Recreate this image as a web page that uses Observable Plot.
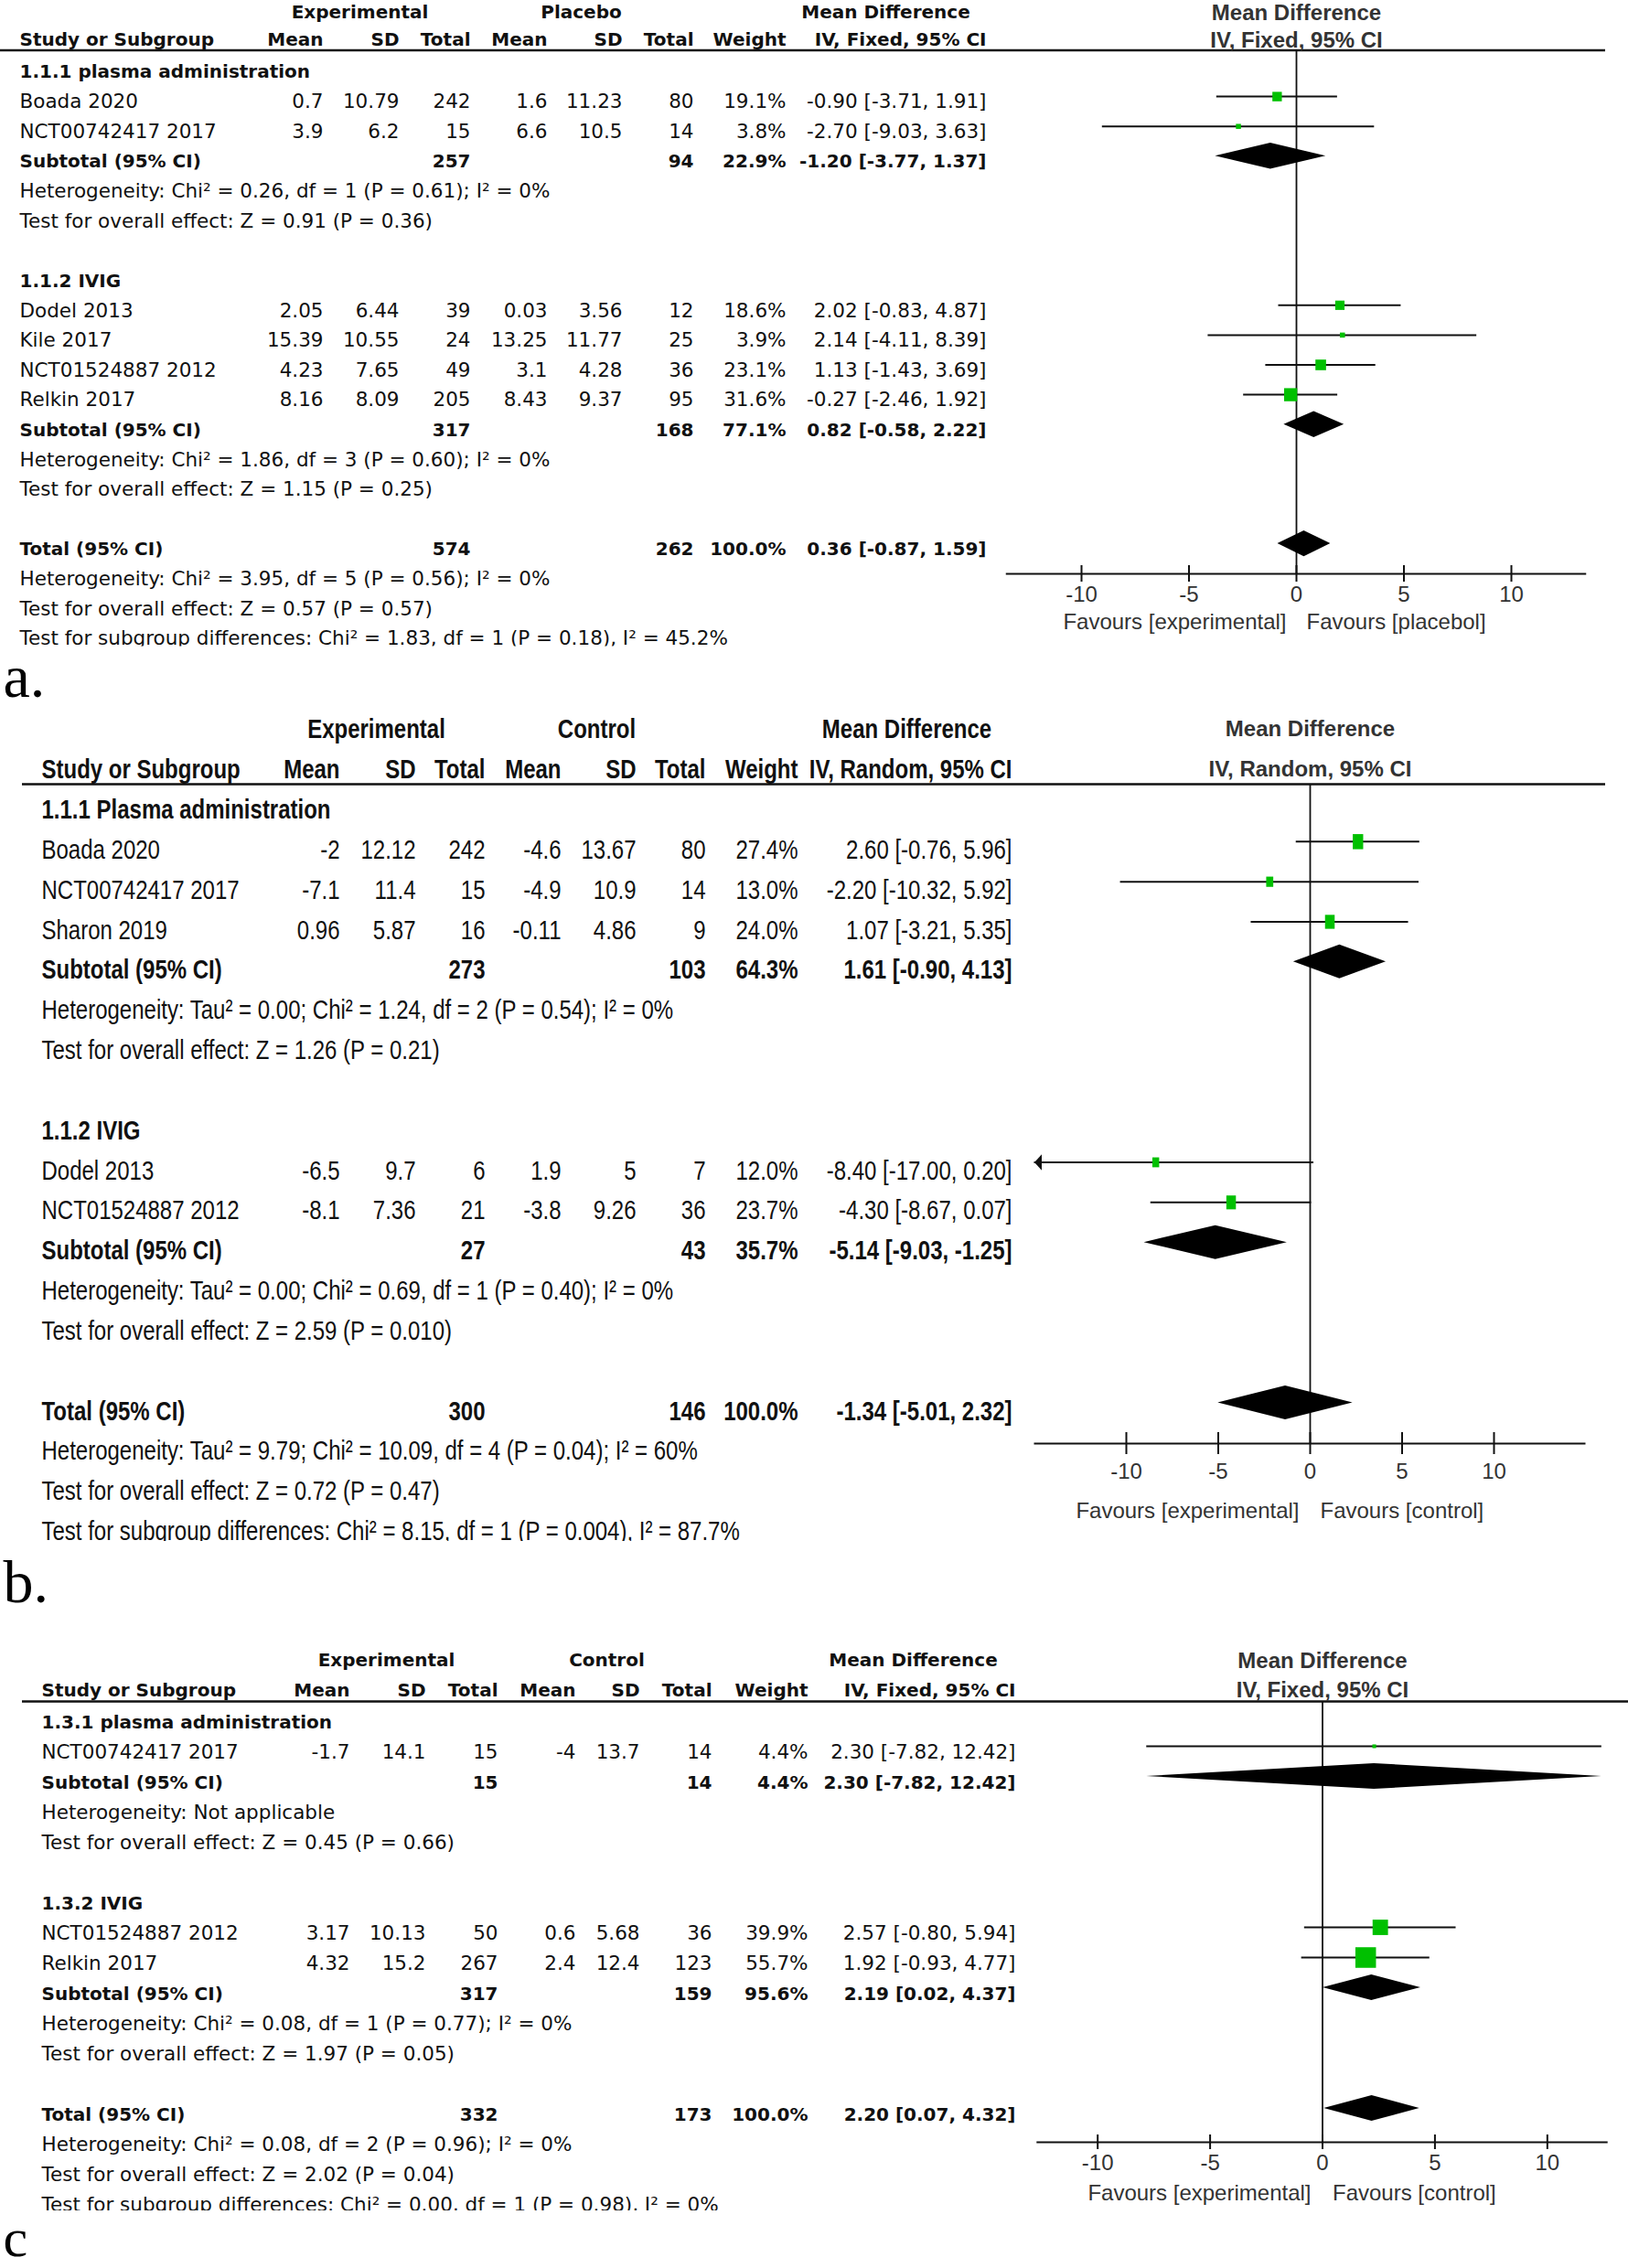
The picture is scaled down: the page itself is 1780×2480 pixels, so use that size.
<!DOCTYPE html>
<html><head><meta charset="utf-8">
<script src="https://cdn.jsdelivr.net/npm/d3@7"></script>
<script src="https://cdn.jsdelivr.net/npm/@observablehq/plot@0.6"></script>
<style>
body{margin:0;background:#fff;}
#wrap{width:1780px;}
#wrap svg{display:block;}
</style></head><body><div id="wrap"></div>
<script>
// ===================== Panel a data =====================
const aGroups = ["1.1.1 plasma administration", "1.1.2 IVIG"];
const aStudies = ["Boada 2020", "NCT00742417 2017", "Dodel 2013", "Kile 2017", "NCT01524887 2012", "Relkin 2017"];
const aStudyGroup = [0, 0, 1, 1, 1, 1];
const aExpMean = [0.7, 3.9, 2.05, 15.39, 4.23, 8.16];
const aExpSD = [10.79, 6.2, 6.44, 10.55, 7.65, 8.09];
const aExpN = [242, 15, 39, 24, 49, 205];
const aCtlMean = [1.6, 6.6, 0.03, 13.25, 3.1, 8.43];
const aCtlSD = [11.23, 10.5, 3.56, 11.77, 4.28, 9.37];
const aCtlN = [80, 14, 12, 25, 36, 95];
const aWeight = [19.1, 3.8, 18.6, 3.9, 23.1, 31.6];
const aMD = [-0.90, -2.70, 2.02, 2.14, 1.13, -0.27];
const aLo = [-3.71, -9.03, -0.83, -4.11, -1.43, -2.46];
const aHi = [1.91, 3.63, 4.87, 8.39, 3.69, 1.92];
const aSubExpN = [257, 317];
const aSubCtlN = [94, 168];
const aSubWeight = [22.9, 77.1];
const aSubMD = [-1.20, 0.82];
const aSubLo = [-3.77, -0.58];
const aSubHi = [1.37, 2.22];
const aHet = ["Heterogeneity: Chi² = 0.26, df = 1 (P = 0.61); I² = 0%", "Heterogeneity: Chi² = 1.86, df = 3 (P = 0.60); I² = 0%"];
const aTest = ["Test for overall effect: Z = 0.91 (P = 0.36)", "Test for overall effect: Z = 1.15 (P = 0.25)"];
const aTotalN = [574, 262];
const aTotalWeight = 100.0;
const aTotalCI = [0.36, -0.87, 1.59];
const aTotalNotes = ["Heterogeneity: Chi² = 3.95, df = 5 (P = 0.56); I² = 0%", "Test for overall effect: Z = 0.57 (P = 0.57)", "Test for subgroup differences: Chi² = 1.83, df = 1 (P = 0.18), I² = 45.2%"];
const aHeaders = ["Experimental", "Placebo", "Mean Difference", "IV, Fixed, 95% CI"];
const aFavours = ["Favours [experimental]", "Favours [placebol]"];

// ===================== Panel b data =====================
const bGroups = ["1.1.1 Plasma administration", "1.1.2 IVIG"];
const bStudies = ["Boada 2020", "NCT00742417 2017", "Sharon 2019", "Dodel 2013", "NCT01524887 2012"];
const bStudyGroup = [0, 0, 0, 1, 1];
const bExpMean = [-2, -7.1, 0.96, -6.5, -8.1];
const bExpSD = [12.12, 11.4, 5.87, 9.7, 7.36];
const bExpN = [242, 15, 16, 6, 21];
const bCtlMean = [-4.6, -4.9, -0.11, 1.9, -3.8];
const bCtlSD = [13.67, 10.9, 4.86, 5, 9.26];
const bCtlN = [80, 14, 9, 7, 36];
const bWeight = [27.4, 13.0, 24.0, 12.0, 23.7];
const bMD = [2.60, -2.20, 1.07, -8.40, -4.30];
const bLo = [-0.76, -10.32, -3.21, -17.00, -8.67];
const bHi = [5.96, 5.92, 5.35, 0.20, 0.07];
const bSubExpN = [273, 27];
const bSubCtlN = [103, 43];
const bSubWeight = [64.3, 35.7];
const bSubMD = [1.61, -5.14];
const bSubLo = [-0.90, -9.03];
const bSubHi = [4.13, -1.25];
const bHet = ["Heterogeneity: Tau² = 0.00; Chi² = 1.24, df = 2 (P = 0.54); I² = 0%", "Heterogeneity: Tau² = 0.00; Chi² = 0.69, df = 1 (P = 0.40); I² = 0%"];
const bTest = ["Test for overall effect: Z = 1.26 (P = 0.21)", "Test for overall effect: Z = 2.59 (P = 0.010)"];
const bTotalN = [300, 146];
const bTotalWeight = 100.0;
const bTotalCI = [-1.34, -5.01, 2.32];
const bTotalNotes = ["Heterogeneity: Tau² = 9.79; Chi² = 10.09, df = 4 (P = 0.04); I² = 60%", "Test for overall effect: Z = 0.72 (P = 0.47)", "Test for subgroup differences: Chi² = 8.15, df = 1 (P = 0.004), I² = 87.7%"];
const bHeaders = ["Experimental", "Control", "Mean Difference", "IV, Random, 95% CI"];
const bFavours = ["Favours [experimental]", "Favours [control]"];

// ===================== Panel c data =====================
const cGroups = ["1.3.1 plasma administration", "1.3.2 IVIG"];
const cStudies = ["NCT00742417 2017", "NCT01524887 2012", "Relkin 2017"];
const cStudyGroup = [0, 1, 1];
const cExpMean = [-1.7, 3.17, 4.32];
const cExpSD = [14.1, 10.13, 15.2];
const cExpN = [15, 50, 267];
const cCtlMean = [-4, 0.6, 2.4];
const cCtlSD = [13.7, 5.68, 12.4];
const cCtlN = [14, 36, 123];
const cWeight = [4.4, 39.9, 55.7];
const cMD = [2.30, 2.57, 1.92];
const cLo = [-7.82, -0.80, -0.93];
const cHi = [12.42, 5.94, 4.77];
const cSubExpN = [15, 317];
const cSubCtlN = [14, 159];
const cSubWeight = [4.4, 95.6];
const cSubMD = [2.30, 2.19];
const cSubLo = [-7.82, 0.02];
const cSubHi = [12.42, 4.37];
const cHet = ["Heterogeneity: Not applicable", "Heterogeneity: Chi² = 0.08, df = 1 (P = 0.77); I² = 0%"];
const cTest = ["Test for overall effect: Z = 0.45 (P = 0.66)", "Test for overall effect: Z = 1.97 (P = 0.05)"];
const cTotalN = [332, 173];
const cTotalWeight = 100.0;
const cTotalCI = [2.20, 0.07, 4.32];
const cTotalNotes = ["Heterogeneity: Chi² = 0.08, df = 2 (P = 0.96); I² = 0%", "Test for overall effect: Z = 2.02 (P = 0.04)", "Test for subgroup differences: Chi² = 0.00, df = 1 (P = 0.98), I² = 0%"];
const cHeaders = ["Experimental", "Control", "Mean Difference", "IV, Fixed, 95% CI"];
const cFavours = ["Favours [experimental]", "Favours [control]"];

const axisTicks = [-10, -5, 0, 5, 10];
const colHeaders = ["Study or Subgroup", "Mean", "SD", "Total", "Mean", "SD", "Total", "Weight"];
const panelLabels = ["a.", "b.", "c"];

// ===================== layout (styles only) =====================
const LA = {height: 776, ml: 0, mr: 25, clipBottom: 706.5, y0: 78.5, sp: 32.6,
  nameX: 21, right: [353, 436, 514, 598, 680, 758, 859, 1078], expC: 393, ctlC: 635, mdC: 968,
  hdr1: 13, hdr2: 43.5, pHdr1: 14, hdrLine: 54.5, xDomain: [-13.5, 13.5], xRange: [1099.75, 1734.25],
  axisY: 627, tickLabelY: 650, favY: 680, tickHalf: 9, markDy: -6, diaHalf: 14.2, asp: 1,
  rRange: [2.43, 20.3], favDx: [-11, 11], labelX: 3, labelBase: 761, labelSize: 66,
  tFont: "DejaVu Sans", tSize: 21.5, tBold: 20, condense: null, pSize: 24};
const LB = {height: 990, ml: 24, mr: 25, clipBottom: 909, y0: 109, sp: 43.83,
  nameX: 45, right: [371, 454, 530, 613, 695, 771, 872, 1106], expC: 411, ctlC: 652, mdC: 991,
  hdr1: 21, hdr2: 65, pHdr1: 21, hdrLine: 81, xDomain: [-15, 15], xRange: [1130.5, 1733.5],
  axisY: 802, tickLabelY: 833, favY: 876, tickHalf: 12, markDy: -9, diaHalf: 18.5, asp: 1.45,
  rRange: [2.48, 16.9], favDx: [-12, 11], labelX: 3, labelBase: 975, labelSize: 66,
  tFont: "Liberation Sans", tSize: 30, tBold: 30, condense: [0.8, 0.78], pSize: 24};
const LC = {height: 714, ml: 24, mr: 0, clipBottom: 651, y0: 117, sp: 33.0,
  nameX: 45, right: [382, 465, 544, 629, 699, 778, 883, 1110], expC: 422, ctlC: 663, mdC: 998,
  hdr1: 49.5, hdr2: 82, pHdr1: 49.5, hdrLine: 94, xDomain: [-12.7, 12.7], xRange: [1133.3, 1757.7],
  axisY: 576, tickLabelY: 599, favY: 632, tickHalf: 8, markDy: -7, diaHalf: 14, asp: 1,
  rRange: [1.41, 21.7], favDx: [-12.5, 11], labelX: 3, labelBase: 700, labelSize: 60,
  tFont: "DejaVu Sans", tSize: 21.5, tBold: 20, condense: null, pSize: 24};

const GREEN = "#00c000";
const fmtW = w => w.toFixed(1) + "%";
const fmtCI = (m, l, h) => `${m.toFixed(2)} [${l.toFixed(2)}, ${h.toFixed(2)}]`;
const rectSymbol = asp => ({draw(ctx, size) { const s = Math.sqrt(size); ctx.rect(-s / 2, -s * asp / 2, s, s * asp); }});
const arrowLeft = asp => ({draw(ctx) { ctx.moveTo(0, 0); ctx.lineTo(8, -6 * asp); ctx.lineTo(8, 6 * asp); ctx.closePath(); }});

function drawPanel(D, L) {
  const toRow = px => (px - L.y0) / L.sp;
  const cells = [];
  const studies = [];
  const diamonds = [];
  const colPx = (j) => j === 0 ? L.nameX : L.right[j - 1];
  const addRow = (vals, row, bold) => vals.forEach((v, j) => {
    if (v === "" || v == null) return;
    cells.push({row, text: String(v), px: colPx(j), anchor: j === 0 ? "start" : "end", bold});
  });
  let r = 0;
  D.groups.forEach((g, gi) => {
    cells.push({row: r, text: g, px: L.nameX, anchor: "start", bold: true}); r++;
    D.studies.forEach((s, i) => {
      if (D.studyGroup[i] !== gi) return;
      studies.push({row: r, md: D.md[i], lo: D.lo[i], hi: D.hi[i], w: D.weight[i]});
      addRow([s, D.expMean[i], D.expSD[i], D.expN[i], D.ctlMean[i], D.ctlSD[i], D.ctlN[i], fmtW(D.weight[i]), fmtCI(D.md[i], D.lo[i], D.hi[i])], r, false);
      r++;
    });
    diamonds.push({row: r, md: D.subMD[gi], lo: D.subLo[gi], hi: D.subHi[gi]});
    addRow(["Subtotal (95% CI)", "", "", D.subExpN[gi], "", "", D.subCtlN[gi], fmtW(D.subWeight[gi]), fmtCI(D.subMD[gi], D.subLo[gi], D.subHi[gi])], r, true); r++;
    cells.push({row: r, text: D.het[gi], px: L.nameX, anchor: "start", bold: false}); r++;
    cells.push({row: r, text: D.test[gi], px: L.nameX, anchor: "start", bold: false}); r++;
    r++;
  });
  diamonds.push({row: r, md: D.totalCI[0], lo: D.totalCI[1], hi: D.totalCI[2]});
  addRow(["Total (95% CI)", "", "", D.totalN[0], "", "", D.totalN[1], fmtW(D.totalWeight), fmtCI(...D.totalCI)], r, true); r++;
  D.totalNotes.forEach(t => { cells.push({row: r, text: t, px: L.nameX, anchor: "start", bold: false}); r++; });
  const lastRow = r - 1;

  // header cells
  const h1 = toRow(L.hdr1), h2 = toRow(L.hdr2);
  cells.push({row: h1, text: D.headers[0], px: L.expC, anchor: "middle", bold: true});
  cells.push({row: h1, text: D.headers[1], px: L.ctlC, anchor: "middle", bold: true});
  cells.push({row: h1, text: D.headers[2], px: L.mdC, anchor: "middle", bold: true});
  colHeaders.forEach((t, j) => cells.push({row: h2, text: t, px: colPx(j), anchor: j === 0 ? "start" : "end", bold: true}));
  cells.push({row: h2, text: D.headers[3], px: colPx(8), anchor: "end", bold: true});

  const tableMarks = d3.groups(cells, c => `${c.px}|${c.anchor}|${c.bold}`).map(([, arr]) => Plot.text(arr, {
    y: "row", text: "text", frameAnchor: "left", dx: arr[0].px - L.ml, textAnchor: arr[0].anchor,
    lineAnchor: "middle", fontFamily: L.tFont, fontSize: arr[0].bold ? L.tBold : L.tSize,
    fontWeight: arr[0].bold ? "bold" : "normal", fill: "#111", clip: true, ariaDescription: "table"
  }));

  const [xmin, xmax] = L.xDomain;
  const diaPts = diamonds.flatMap((d, k) => [
    {id: k, y: d.row - L.diaHalf / L.sp, x1: d.md, x2: d.md},
    {id: k, y: d.row, x1: d.lo, x2: d.hi},
    {id: k, y: d.row + L.diaHalf / L.sp, x1: d.md, x2: d.md}
  ]);
  const pFont = {fontFamily: "Liberation Sans", fontSize: L.pSize, fill: "#333"};

  const svg = Plot.plot({
    width: 1780, height: L.height,
    marginTop: 0, marginLeft: L.ml, marginRight: L.mr, marginBottom: L.height - L.clipBottom,
    x: {domain: L.xDomain, range: L.xRange, axis: null},
    y: {domain: [0, lastRow], range: [L.y0, L.y0 + lastRow * L.sp], axis: null},
    r: {type: "linear", domain: [0, 100], range: L.rRange},
    marks: [
      ...tableMarks,
      Plot.ruleY([toRow(L.hdrLine)], {stroke: "#111", strokeWidth: 2.5}),
      Plot.ruleX([0], {y1: toRow(L.hdrLine), y2: toRow(L.axisY), stroke: "#111", strokeWidth: 1.8}),
      Plot.ruleY([toRow(L.axisY)], {x1: xmin, x2: xmax, stroke: "#111", strokeWidth: 2}),
      Plot.ruleX(axisTicks, {x: d => d, y1: toRow(L.axisY - L.tickHalf), y2: toRow(L.axisY + L.tickHalf), stroke: "#111", strokeWidth: 2}),
      Plot.text(axisTicks, {x: d => d, y: toRow(L.tickLabelY), text: d => String(d), lineAnchor: "middle", ...pFont}),
      Plot.text([D.favours[0]], {x: 0, y: toRow(L.favY), text: d => d, textAnchor: "end", dx: L.favDx[0], lineAnchor: "middle", ...pFont}),
      Plot.text([D.favours[1]], {x: 0, y: toRow(L.favY), text: d => d, textAnchor: "start", dx: L.favDx[1], lineAnchor: "middle", ...pFont}),
      Plot.text([D.headers[2]], {x: 0, y: toRow(L.pHdr1), text: d => d, lineAnchor: "middle", fontWeight: "bold", ...pFont}),
      Plot.text([D.headers[3]], {x: 0, y: h2, text: d => d, lineAnchor: "middle", fontWeight: "bold", ...pFont}),
      Plot.ruleY(studies, {y: "row", x1: d => Math.max(d.lo, xmin), x2: d => Math.min(d.hi, xmax), stroke: "#111", strokeWidth: 2, dy: L.markDy}),
      Plot.dot(studies.filter(d => d.lo < xmin), {x: () => xmin, y: "row", symbol: arrowLeft(L.asp), fill: "#111", r: 5, dy: L.markDy}),
      Plot.dot(studies, {x: "md", y: "row", r: "w", symbol: rectSymbol(L.asp), fill: GREEN, dy: L.markDy}),
      Plot.areaX(diaPts, {x1: "x1", x2: "x2", y: "y", z: "id", fill: "#000", curve: "linear", dy: L.markDy}),
      Plot.text([D.label], {frameAnchor: "top-left", dx: L.labelX - L.ml, dy: L.labelBase, text: d => d, textAnchor: "start", lineAnchor: "bottom", fontFamily: "Liberation Serif", fontSize: L.labelSize, fill: "#000"})
    ]
  });

  if (L.condense) {
    svg.querySelectorAll('g[aria-description="table"]').forEach(g => {
      const s = g.getAttribute("font-weight") === "bold" ? L.condense[1] : L.condense[0];
      g.querySelectorAll("text").forEach(t => t.setAttribute("transform", (t.getAttribute("transform") || "") + ` scale(${s},1)`));
    });
  }
  return svg;
}

const wrap = document.getElementById("wrap");
wrap.append(drawPanel({
  groups: aGroups, studies: aStudies, studyGroup: aStudyGroup, expMean: aExpMean, expSD: aExpSD, expN: aExpN,
  ctlMean: aCtlMean, ctlSD: aCtlSD, ctlN: aCtlN, weight: aWeight, md: aMD, lo: aLo, hi: aHi,
  subExpN: aSubExpN, subCtlN: aSubCtlN, subWeight: aSubWeight, subMD: aSubMD, subLo: aSubLo, subHi: aSubHi,
  het: aHet, test: aTest, totalN: aTotalN, totalWeight: aTotalWeight, totalCI: aTotalCI, totalNotes: aTotalNotes,
  headers: aHeaders, favours: aFavours, label: panelLabels[0]
}, LA));
wrap.append(drawPanel({
  groups: bGroups, studies: bStudies, studyGroup: bStudyGroup, expMean: bExpMean, expSD: bExpSD, expN: bExpN,
  ctlMean: bCtlMean, ctlSD: bCtlSD, ctlN: bCtlN, weight: bWeight, md: bMD, lo: bLo, hi: bHi,
  subExpN: bSubExpN, subCtlN: bSubCtlN, subWeight: bSubWeight, subMD: bSubMD, subLo: bSubLo, subHi: bSubHi,
  het: bHet, test: bTest, totalN: bTotalN, totalWeight: bTotalWeight, totalCI: bTotalCI, totalNotes: bTotalNotes,
  headers: bHeaders, favours: bFavours, label: panelLabels[1]
}, LB));
wrap.append(drawPanel({
  groups: cGroups, studies: cStudies, studyGroup: cStudyGroup, expMean: cExpMean, expSD: cExpSD, expN: cExpN,
  ctlMean: cCtlMean, ctlSD: cCtlSD, ctlN: cCtlN, weight: cWeight, md: cMD, lo: cLo, hi: cHi,
  subExpN: cSubExpN, subCtlN: cSubCtlN, subWeight: cSubWeight, subMD: cSubMD, subLo: cSubLo, subHi: cSubHi,
  het: cHet, test: cTest, totalN: cTotalN, totalWeight: cTotalWeight, totalCI: cTotalCI, totalNotes: cTotalNotes,
  headers: cHeaders, favours: cFavours, label: panelLabels[2]
}, LC));
</script>
</body></html>
